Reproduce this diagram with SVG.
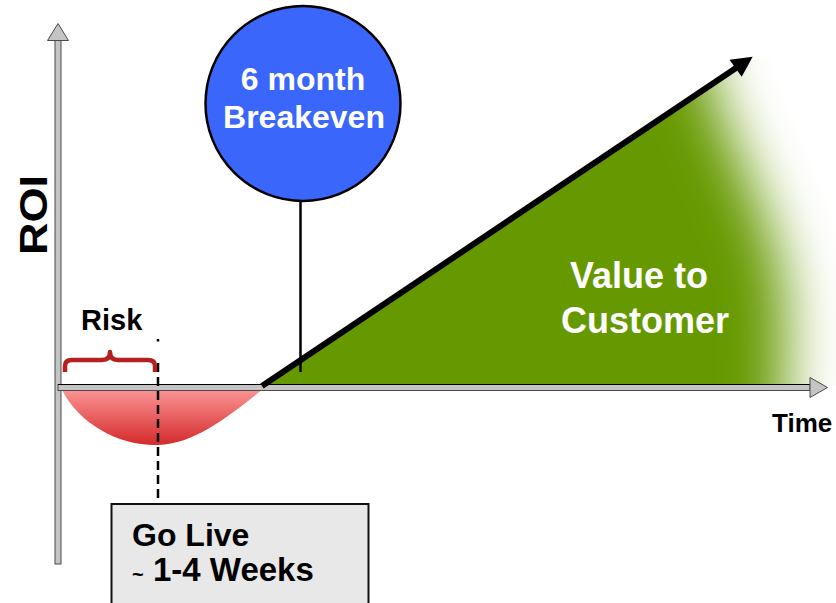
<svg xmlns="http://www.w3.org/2000/svg" width="836" height="603" viewBox="0 0 836 603">
  <style>
    .bold { font-family: "Liberation Sans", Arial, sans-serif; font-weight: bold; }
    .axis { fill: #c4c4c4; stroke: #4a4a4a; stroke-width: 1; }
    .dash { stroke: #000; stroke-width: 2.5; stroke-dasharray: 9 5; fill: none; }
  </style>
  <defs>
    <linearGradient id="redGrad" x1="0" y1="0" x2="0" y2="1">
      <stop offset="0" stop-color="#fb9494"/>
      <stop offset="1" stop-color="#d42a2a"/>
    </linearGradient>
    <filter id="fadeBlur" filterUnits="userSpaceOnUse" x="-200" y="-200" width="1300" height="900">
      <feGaussianBlur stdDeviation="28"/>
    </filter>
    <mask id="greenMask" maskUnits="userSpaceOnUse" x="0" y="0" width="836" height="603">
      <path d="M -100 -100 L 690 -100 L 700 40 C 722 150 792 230 786 330 L 782 520 L -100 520 Z" fill="#fff" filter="url(#fadeBlur)"/>
    </mask>
  </defs>

  <rect width="836" height="603" fill="#fff"/>

  <!-- value area -->
  <g id="value-area">
    <polygon points="262,386 745,62 836,40 836,386" fill="#669900" mask="url(#greenMask)"/>
  </g>

  <!-- risk area -->
  <g id="risk-area">
    <path d="M 62 390 C 80 425 120 446 158 445 C 195 444 230 415 262 390 Z" fill="url(#redGrad)"/>
  </g>

  <!-- axes -->
  <g id="y-axis">
    <rect class="axis" x="55" y="40" width="6" height="524"/>
    <polygon class="axis" points="47.5,40.5 58,23.5 68.5,40.5"/>
    <text class="bold" font-size="38" text-anchor="middle" transform="translate(46.5,215) rotate(-90)" textLength="80" lengthAdjust="spacingAndGlyphs">ROI</text>
  </g>
  <g id="x-axis">
    <rect class="axis" x="58" y="384.5" width="752" height="6"/>
    <line x1="58" y1="384.5" x2="810" y2="384.5" stroke="#000" stroke-width="1.2"/>
    <polygon class="axis" points="810,377.5 827.5,387.5 810,397.5"/>
    <text class="bold" font-size="26" x="772" y="432">Time</text>
  </g>

  <!-- connectors -->
  <g id="connectors">
    <line x1="262" y1="386" x2="736" y2="68" stroke="#000" stroke-width="6"/>
    <polygon points="752.7,56.7 729.5,59.8 741.7,76.7" fill="#000"/>
    <line x1="300.5" y1="201" x2="300.5" y2="372" stroke="#000" stroke-width="2.5"/>
    <line x1="158" y1="339" x2="158" y2="341.5" stroke="#000" stroke-width="2.5"/>
    <line class="dash" x1="158" y1="363" x2="158" y2="504"/>
  </g>

  <!-- risk brace -->
  <g id="risk">
    <path d="M 65 372 L 65 366 Q 65 360 72 360 L 102 360 Q 110 360 110 352 Q 110 360 118 360 L 148 360 Q 155 360 155 366 L 155 372" fill="none" stroke="#b42020" stroke-width="4.5" stroke-linejoin="round"/>
    <text class="bold" font-size="29" x="81" y="330">Risk</text>
  </g>

  <!-- breakeven -->
  <g id="breakeven">
    <circle cx="303" cy="103.5" r="97.5" fill="#3a66fc" stroke="#000" stroke-width="2.5"/>
    <text class="bold" font-size="32" fill="#fff" text-anchor="middle" x="303" y="90">6 month</text>
    <text class="bold" font-size="32" fill="#fff" text-anchor="middle" x="304" y="128">Breakeven</text>
  </g>

  <!-- value label -->
  <g id="value-label">
    <text class="bold" font-size="36" fill="#fff" x="570" y="288">Value to</text>
    <text class="bold" font-size="36" fill="#fff" x="561" y="333">Customer</text>
  </g>

  <!-- go live -->
  <g id="go-live">
    <rect x="111.5" y="504" width="257" height="104" fill="#e8e8e8" stroke="#111" stroke-width="2"/>
    <text class="bold" font-size="32" x="132" y="546">Go Live</text>
    <text class="bold" x="132" y="581"><tspan font-size="20">~</tspan><tspan font-size="33" x="153">1-4 Weeks</tspan></text>
  </g>
</svg>
